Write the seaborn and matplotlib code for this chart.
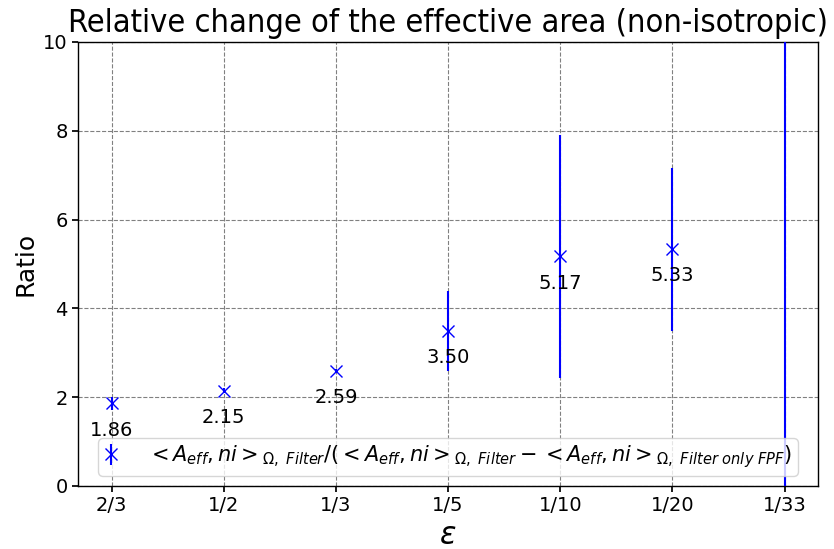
import numpy as np
import pandas as pd
import matplotlib
matplotlib.use("Agg")
import matplotlib.pyplot as plt
import seaborn as sns

# Filter ratio per epsilon setting
eps_labels = ["2/3", "1/2", "1/3", "1/5", "1/10", "1/20", "1/33"]
ratios = [1.86, 2.15, 2.59, 3.50, 5.17, 5.33, 25.0]
ratio_errs = [0.15, 0.05, 0.05, 0.90, 2.74, 1.84, 26.0]

df = pd.DataFrame({"eps": eps_labels, "ratio": ratios, "err": ratio_errs})
df["pos"] = np.arange(len(df))

sns.set_theme(style="ticks", font="DejaVu Sans",
              rc={"text.color": "black", "axes.labelcolor": "black",
                  "xtick.color": "black", "ytick.color": "black",
                  "axes.edgecolor": "black"})
plt.rcParams["font.family"] = ["DejaVu Sans"]

fig = plt.figure(figsize=(8.34, 5.49), dpi=100)
ax = fig.add_axes([0.0935, 0.1148, 0.8875, 0.8087])

label = (r"$<A_{eff}, ni>_{\Omega,\ Filter}/(<A_{eff}, ni>_{\Omega,\ Filter}"
         r" - <A_{eff}, ni>_{\Omega,\ Filter\ only\ FPF})$")

ax.errorbar(df["pos"], df["ratio"], yerr=df["err"], fmt="x", color="blue",
            ecolor="blue", markersize=9, elinewidth=1.5, label=label, zorder=3)

ymax = 10
for p, r in zip(df["pos"], df["ratio"]):
    if r < ymax:
        ax.text(p, r - 0.6, f"{r:.2f}", ha="center", va="center", fontsize=14,
                color="black")

ax.set_xticks(df["pos"])
ax.set_xticklabels(df["eps"], fontsize=14)
ax.set_xlim(-0.3, len(df) - 0.7)
ax.set_ylim(0, ymax)
ax.set_yticks([0, 2, 4, 6, 8, 10])
ax.tick_params(axis="y", labelsize=14)
ax.tick_params(axis="both", direction="out", length=4, color="black")
for s in ax.spines.values():
    s.set_color("black")
    s.set_linewidth(1.0)

ax.grid(True, color="gray", linestyle="--", linewidth=0.8)
ax.set_axisbelow(True)

ax.set_xlabel(r"$\epsilon$", fontsize=22)
ax.set_ylabel("Ratio", fontsize=18)
ax.set_title("Relative change of the effective area (non-isotropic)",
             fontsize=23.3, fontstretch="condensed", color="black", pad=7)

ax.legend(loc="lower center", fontsize=15, frameon=True, borderpad=0.25,
          handlelength=0.7, handletextpad=1.4)

fig.savefig("out.png", dpi=100)
